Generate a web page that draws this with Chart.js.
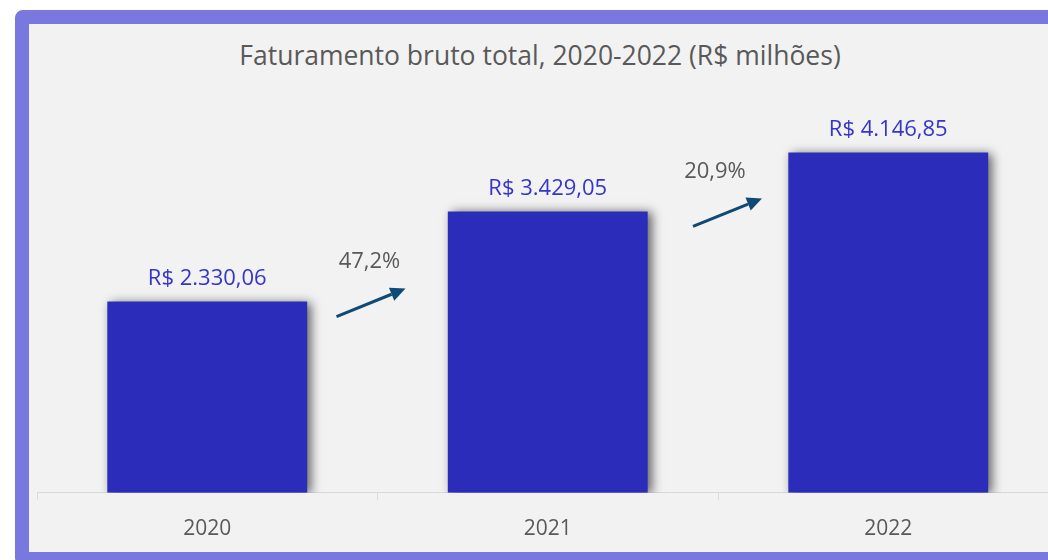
<!DOCTYPE html>
<html>
<head>
<meta charset="utf-8">
<script src="https://cdn.jsdelivr.net/npm/chart.js@4"></script>
<style>
  html, body { margin: 0; padding: 0; background: #fff; overflow: hidden; width: 1048px; height: 560px; }
  .frame {
    position: absolute; left: 15px; top: 10px;
    width: 1100px; height: 528px;
    border: 14px solid #7878de; border-radius: 8px;
    background: #f2f2f2;
  }
  .title {
    position: absolute; left: 15px; top: 37px; width: 1050px;
    text-align: center; font-family: "Open Sans", sans-serif; font-size: 26.5px; color: #595959;
  }
  .wrap { position: absolute; left: 29px; top: 24px; width: 1060px; height: 535px; }
</style>
</head>
<body>
<div class="frame"></div>
<div class="title">Faturamento bruto total, 2020-2022 (R$ milhões)</div>
<div class="wrap"><canvas id="chart"></canvas></div>
<script>
const years = ['2020', '2021', '2022'];
const revenue = [2330.06, 3429.05, 4146.85];
const valueLabels = ['R$ 2.330,06', 'R$ 3.429,05', 'R$ 4.146,85'];
const growthLabels = ['47,2%', '20,9%'];

const FONT = '"Open Sans", sans-serif';

// shadow under the bars
const barShadow = {
  id: 'barShadow',
  beforeDatasetsDraw(chart) {
    const ctx = chart.ctx;
    ctx.save();
    ctx.shadowColor = 'rgba(0,0,0,0.6)';
    ctx.shadowBlur = 10;
    ctx.shadowOffsetX = 4;
    ctx.shadowOffsetY = 1;
  },
  afterDatasetsDraw(chart) {
    chart.ctx.restore();
  }
};

// value labels above bars + growth arrows between them
const annotations = {
  id: 'annotations',
  afterDraw(chart) {
    const ctx = chart.ctx;
    const x = chart.scales.x, y = chart.scales.y;
    const bars = chart.getDatasetMeta(0).data;
    ctx.save();
    ctx.textAlign = 'center';
    ctx.textBaseline = 'middle';
    ctx.font = '22px ' + FONT;
    ctx.fillStyle = '#3535c8';
    bars.forEach((b, i) => ctx.fillText(valueLabels[i], b.x, b.y - 23));

    const shift = [-7, 9];
    const labelShift = [-1, -12];
    growthLabels.forEach((txt, i) => {
      const cx = (x.getPixelForValue(i) + x.getPixelForValue(i + 1)) / 2 + shift[i];
      const cy = y.getPixelForValue(revenue[i]) + 1;
      const x0 = cx - 34, y0 = cy + 14, x1 = cx + 35, y1 = cy - 14;
      const ang = Math.atan2(y1 - y0, x1 - x0);
      const hl = 15, hw = 7;
      const bx = x1 - hl * Math.cos(ang), by = y1 - hl * Math.sin(ang);
      ctx.strokeStyle = '#0e4a75';
      ctx.fillStyle = '#0e4a75';
      ctx.lineWidth = 3;
      ctx.beginPath();
      ctx.moveTo(x0, y0);
      ctx.lineTo(bx, by);
      ctx.stroke();
      ctx.beginPath();
      ctx.moveTo(x1, y1);
      ctx.lineTo(bx + hw * Math.sin(ang), by - hw * Math.cos(ang));
      ctx.lineTo(bx - hw * Math.sin(ang), by + hw * Math.cos(ang));
      ctx.closePath();
      ctx.fill();

      ctx.fillStyle = '#595959';
      ctx.font = '22px ' + FONT;
      ctx.fillText(txt, cx + labelShift[i], cy - 41);
    });
    ctx.restore();
  }
};

new Chart(document.getElementById('chart'), {
  type: 'bar',
  data: {
    labels: years,
    datasets: [{
      data: revenue,
      backgroundColor: '#2c2cbb',
      categoryPercentage: 1,
      barPercentage: 0.587
    }]
  },
  options: {
    responsive: true,
    maintainAspectRatio: false,
    animation: false,
    layout: { padding: { left: 8, right: 30.5, top: 58.5, bottom: 0 } },
    plugins: { legend: { display: false }, tooltip: { enabled: false } },
    scales: {
      x: {
        border: { color: '#d9d9d9', width: 1 },
        grid: { offset: true, drawOnChartArea: false, drawTicks: true, tickLength: 7, color: '#d9d9d9' },
        ticks: { color: '#595959', font: { family: FONT, size: 21 }, padding: 17 }
      },
      y: {
        display: false,
        min: 0,
        max: 5000
      }
    }
  },
  plugins: [barShadow, annotations]
});
</script>
</body>
</html>
